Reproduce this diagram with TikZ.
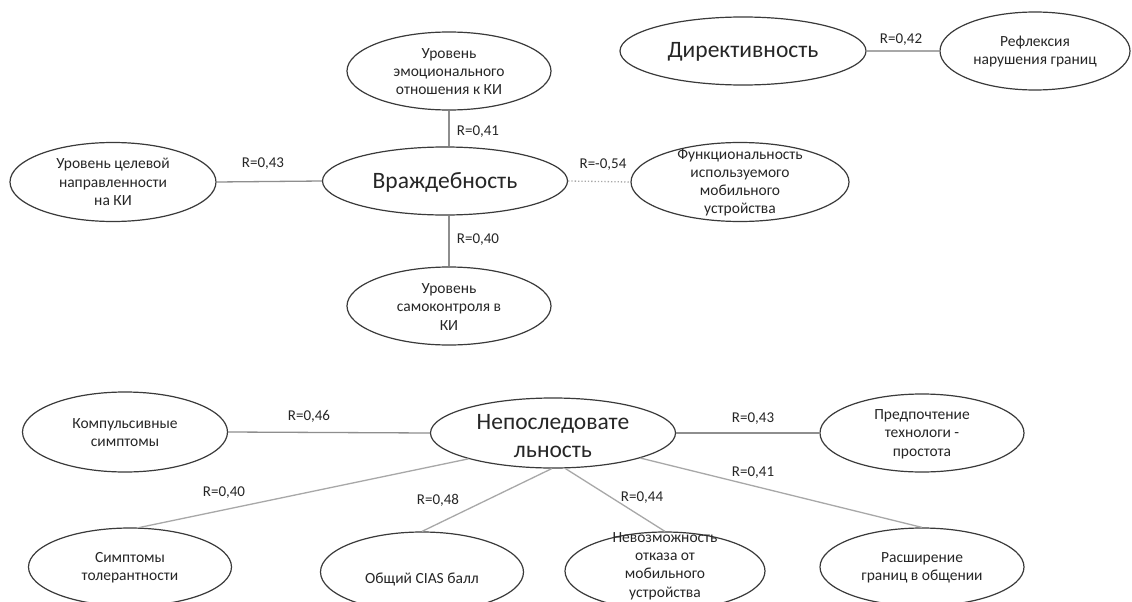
\documentclass[tikz,border=0pt]{standalone}
\usepackage{fontspec}
\setmainfont{Carlito}
\usetikzlibrary{shapes.geometric}
\definecolor{ink}{HTML}{262626}
\definecolor{edge}{HTML}{3A3A3A}
\definecolor{conn}{HTML}{8E8E8E}
\definecolor{connlight}{HTML}{A8A8A8}
\tikzset{
  ell/.style={ellipse, draw=edge, line width=1.2pt, inner sep=0pt},
  smalltxt/.style={text=ink, align=center, inner sep=0pt, font=\fontsize{15.5}{18.3}\selectfont},
  bigtxt/.style={text=ink, align=center, inner sep=0pt, font=\fontsize{23.5}{28}\selectfont},
  rlab/.style={text=ink, inner sep=0pt, font=\fontsize{15}{17}\selectfont},
  link/.style={draw=conn, line width=1.3pt},
  linklight/.style={draw=connlight, line width=1.3pt},
  dotlink/.style={draw=connlight, line width=1.3pt, dotted}
}
\begin{document}
\begin{tikzpicture}[x=1pt, y=-1pt]
\useasboundingbox (0,0) rectangle (1132,602);
\fill[white] (0,0) rectangle (1132,602);

% ---- Hostility cluster ----
\node[ell, minimum width=204pt, minimum height=78pt] (emo) at (449,71) {};
\node[smalltxt] (emoT) at (449,71.5) {Уровень\\эмоционального\\отношения к КИ};
\node[ell, minimum width=206pt, minimum height=79pt] (tsel) at (113,182) {};
\node[smalltxt] (tselT) at (113,182) {Уровень целевой\\направленности\\на КИ};
\node[ell, minimum width=245pt, minimum height=68pt] (vrazh) at (445,181) {};
\node[bigtxt] (vrazhT) at (445,182) {Враждебность};
\node[ell, minimum width=204pt, minimum height=78pt] (samo) at (449,306) {};
\node[smalltxt] (samoT) at (449,307) {Уровень\\самоконтроля в\\КИ};
\node[ell, minimum width=218pt, minimum height=79pt] (func) at (740,182) {};
\node[smalltxt] (funcT) at (740,182.5) {Функциональность\\используемого\\мобильного\\устройства};

\draw[link] (emo.south) -- (emo.south |- vrazh.north);
\draw[link] (samo.north) -- (samo.north |- vrazh.south);
\draw[link] (tsel.east) -- (vrazh.west);
\draw[dotlink] (vrazh.east) -- (func.west);

\node[rlab] (l1) at (263,164) {R=0,43};
\node[rlab] (l2) at (478,132) {R=0,41};
\node[rlab] (l3) at (478,240) {R=0,40};
\node[rlab] (l4) at (603,165) {R=-0,54};

% ---- Directivity ----
\node[ell, minimum width=246pt, minimum height=68pt] (direkt) at (743,51) {};
\node[bigtxt] (direktT) at (743,52) {Директивность};
\node[ell, minimum width=190pt, minimum height=78pt] (refl) at (1035,51) {};
\node[smalltxt] (reflT) at (1035,51.5) {Рефлексия\\нарушения границ};
\draw[linklight] (direkt.east) -- (refl.west);
\node[rlab] (l5) at (901,40) {R=0,42};

% ---- Inconsistency cluster ----
\node[ell, minimum width=245pt, minimum height=70pt] (nep) at (553,433) {};
\node[bigtxt] (nepT) at (553,436) {Непоследовате\\льность};
\node[ell, minimum width=205pt, minimum height=80pt] (komp) at (125,432) {};
\node[smalltxt] (kompT) at (125,432.5) {Компульсивные\\симптомы};
\node[ell, minimum width=204pt, minimum height=78pt] (pred) at (922,433) {};
\node[smalltxt] (predT) at (922,434) {Предпочтение\\технологи -\\простота};
\node[ell, minimum width=203pt, minimum height=78pt] (tol) at (130,567) {};
\node[smalltxt] (tolT) at (130,567.5) {Симптомы\\толерантности};
\node[ell, minimum width=203pt, minimum height=80pt] (cias) at (422,572) {};
\node[smalltxt] (ciasT) at (422,579) {Общий CIAS балл};
\node[ell, minimum width=200pt, minimum height=78pt] (nevoz) at (665,571) {};
\node[smalltxt] (nevozT) at (665,566) {Невозможность\\отказа от\\мобильного\\устройства};
\node[ell, minimum width=204pt, minimum height=78pt] (rassh) at (922,567) {};
\node[smalltxt] (rasshT) at (922,567.5) {Расширение\\границ в общении};

\draw[link] (komp.east) -- (nep.west);
\draw[link] (nep.east) -- (pred.west);
\draw[linklight] (nep.197) -- (tol.77);
\draw[linklight] (nep.268) -- (cias.north);
\draw[linklight] (nep.289) -- (nevoz.north);
\draw[linklight] (nep.344) -- (rassh.north);

\node[rlab] (l6) at (309,416) {R=0,46};
\node[rlab] (l7) at (753,419) {R=0,43};
\node[rlab] (l8) at (753,473) {R=0,41};
\node[rlab] (l9) at (224,493) {R=0,40};
\node[rlab] (l10) at (438,500) {R=0,48};
\node[rlab] (l11) at (642,498) {R=0,44};
\end{tikzpicture}
\end{document}
